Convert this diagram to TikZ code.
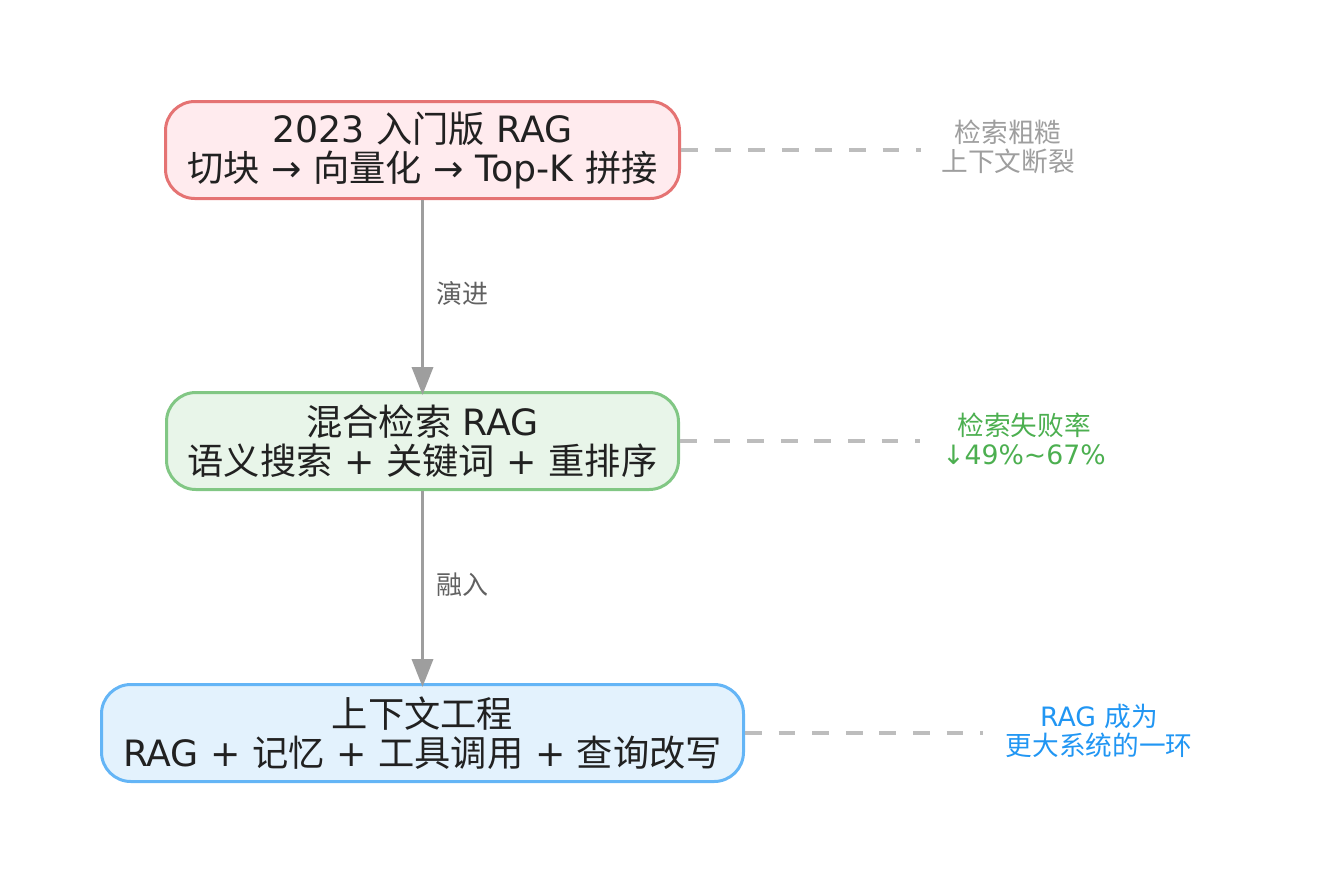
\documentclass[tikz,border=0pt]{standalone}
\usepackage{fontspec}
\setmainfont{DejaVu Sans}
\newfontfamily\cjk{Noto Sans CJK SC}
\newcommand\zh[1]{{\cjk #1}}
\usetikzlibrary{arrows.meta}
\definecolor{txtdark}{HTML}{212121}
\definecolor{lblgrey}{HTML}{616161}
\definecolor{arrgrey}{HTML}{9E9E9E}
\definecolor{dashgrey}{HTML}{BDBDBD}
\definecolor{fillred}{HTML}{FFEBEE}
\definecolor{bordred}{HTML}{E57373}
\definecolor{fillgreen}{HTML}{E8F5E9}
\definecolor{bordgreen}{HTML}{81C784}
\definecolor{fillblue}{HTML}{E3F2FD}
\definecolor{bordblue}{HTML}{64B5F6}
\definecolor{notegrey}{HTML}{9E9E9E}
\definecolor{notegreen}{HTML}{4CAF50}
\definecolor{noteblue}{HTML}{2196F3}
\tikzset{
  stagebox/.style={draw, line width=2.25pt, rounded corners=22pt, align=center,
    text=txtdark, inner sep=0pt, minimum height=72.75pt,
    font=\fontsize{27.2pt}{29.25pt}\selectfont},
  flowarrow/.style={draw=arrgrey, line width=2.7pt, shorten >=-3pt,
    -{Triangle[width=15.75pt,length=21pt]}},
  flowlabel/.style={anchor=west, text=lblgrey, inner sep=0pt, font=\fontsize{19.5pt}{22pt}\selectfont},
  noteline/.style={draw=dashgrey, line width=2.6pt, dash pattern=on 12.6pt off 12.6pt},
  notetext/.style={align=center, inner sep=0pt, font=\fontsize{20pt}{21.75pt}\selectfont}
}
\begin{document}
\begin{tikzpicture}[x=0.75pt,y=-0.75pt]
\useasboundingbox (0,0) rectangle (1318,883);
\node[stagebox, fill=fillred, draw=bordred, minimum width=385.5pt] (n1) at (422.5,150)
  {2023 \zh{入门版} RAG\\\zh{切块} → \zh{向量化} → Top-K \zh{拼接}};
\node[stagebox, fill=fillgreen, draw=bordgreen, minimum width=384pt] (n2) at (422.5,441)
  {\zh{混合检索} RAG\\\zh{语义搜索} + \zh{关键词} + \zh{重排序}};
\node[stagebox, fill=fillblue, draw=bordblue, minimum width=481.5pt] (n3) at (422.5,733)
  {\zh{上下文工程}\\RAG + \zh{记忆} + \zh{工具调用} + \zh{查询改写}};
\draw[flowarrow] (n1.south) -- (n2.north);
\draw[flowarrow] (n2.south) -- (n3.north);
\node[flowlabel] (l1) at (436,293) {\zh{演进}};
\node[flowlabel] (l2) at (436,585) {\zh{融入}};
\coordinate (e1) at (921,150);
\coordinate (e2) at (920,441);
\coordinate (e3) at (983,733);
\draw[noteline] (n1.east) -- (e1);
\draw[noteline] (n2.east) -- (e2);
\draw[noteline] (n3.east) -- (e3);
\node[notetext, text=notegrey] (t1) at (1008,147) {\zh{检索粗糙}\\\zh{上下文断裂}};
\node[notetext, text=notegreen] (t2) at (1024,439) {\zh{检索失败率}\\↓49\%\textasciitilde67\%};
\node[notetext, text=noteblue] (t3) at (1099,731) {RAG \zh{成为}\\\zh{更大系统的一环}};
\end{tikzpicture}
\end{document}
